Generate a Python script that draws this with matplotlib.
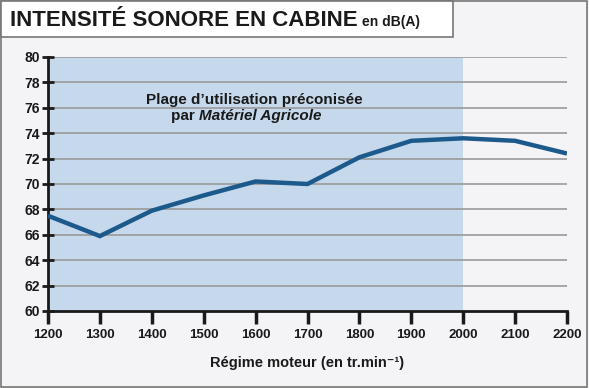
import matplotlib.pyplot as plt
import matplotlib.patches as patches

# données
regime = [1200, 1300, 1400, 1500, 1600, 1700, 1800, 1900, 2000, 2100, 2200]
intensite = [67.5, 65.9, 67.9, 69.1, 70.2, 70.0, 72.1, 73.4, 73.6, 73.4, 72.4]
plage = [1200, 2000]
y_ticks = list(range(60, 81, 2))

plt.rcParams['font.family'] = ['Liberation Sans', 'DejaVu Sans']

fig = plt.figure(figsize=(5.89, 3.88), dpi=100, facecolor='#f4f3f6')
ax = fig.add_axes([48 / 589, 1 - 311 / 388, 519 / 589, 254 / 388])
ax.set_facecolor('none')

# cadre général et bandeau du titre
fig.patches.append(patches.Rectangle((0.002, 0.003), 0.995, 0.994, transform=fig.transFigure,
                                     fill=False, edgecolor='#777777', lw=1.2))
fig.patches.append(patches.Rectangle((0.002, 1 - 37 / 388), 452 / 589, 37 / 388 - 0.003,
                                     transform=fig.transFigure, facecolor='white',
                                     edgecolor='#777777', lw=1.2))
fig.text(10 / 589, 1 - 20 / 388, "INTENSITÉ SONORE EN CABINE", fontsize=16, fontweight='bold',
         va='center', ha='left', color='#1a1a1a')
fig.text(362 / 589, 1 - 22 / 388, "en dB(A)", fontsize=10, fontweight='bold',
         va='center', ha='left', color='#1a1a1a')

ax.axvspan(plage[0], plage[1], color='#c5d8ec', zorder=0, lw=0)
for y in y_ticks[1:]:
    ax.axhline(y, color='#9a9a9a', lw=1.2, zorder=1)

ax.plot(regime, intensite, color='#1d5a8c', lw=3.2, zorder=3, solid_capstyle='butt',
        solid_joinstyle='miter')

ax.set_xlim(1200, 2200)
ax.set_ylim(60, 80)
ax.set_xticks(regime)
ax.set_yticks(y_ticks)
for s in ['top', 'right']:
    ax.spines[s].set_visible(False)
for s in ['left', 'bottom']:
    ax.spines[s].set_linewidth(2)
    ax.spines[s].set_color('#1a1a1a')

ax.tick_params(axis='x', direction='out', length=9, width=2.5, color='#1a1a1a', pad=4,
               labelsize=9.5, labelcolor='#1a1a1a')
ax.tick_params(axis='y', direction='inout', length=8, width=2, color='#1a1a1a', pad=2,
               labelsize=10, labelcolor='#1a1a1a')
for lab in ax.get_xticklabels() + ax.get_yticklabels():
    lab.set_fontweight('bold')

ax.set_xlabel("Régime moteur (en tr.min⁻¹)", fontsize=10.5, fontweight='bold',
              color='#1a1a1a', labelpad=11)

ax.text(1597, 76.6, "Plage d’utilisation préconisée", ha='center', va='center',
        fontsize=11, fontweight='bold', color='#1a1a1a')
t1 = ax.text(1490, 75.35, "par ", ha='right', va='center', fontsize=11,
             fontweight='bold', color='#1a1a1a')
ax.annotate("Matériel Agricole", xy=(1, 0.5), xycoords=t1, ha='left', va='center',
            fontsize=11, fontweight='bold', fontstyle='italic', color='#1a1a1a')

fig.savefig('out.png', dpi=100, facecolor=fig.get_facecolor())
